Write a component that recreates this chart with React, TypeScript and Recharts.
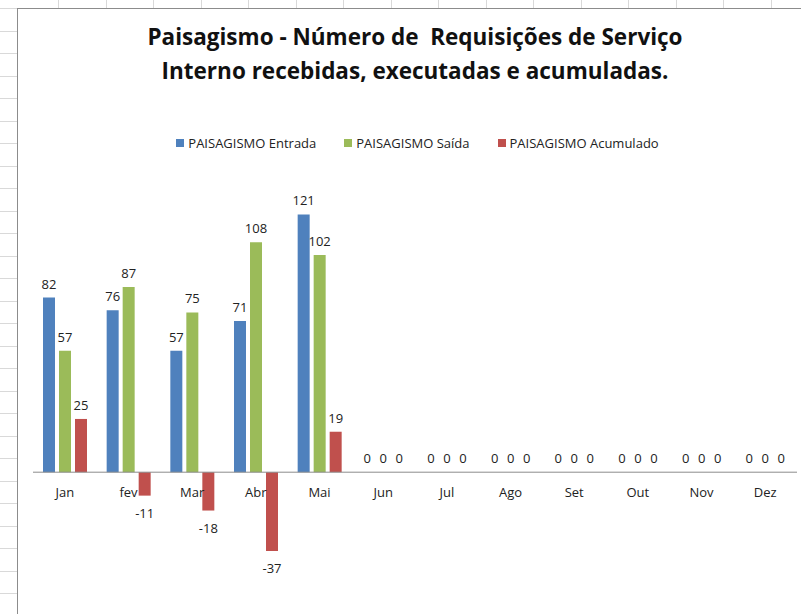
import { ComposedChart, Bar, Line, XAxis, YAxis, ReferenceLine, LabelList } from 'recharts'

const meses = ['Jan', 'fev', 'Mar', 'Abr', 'Mai', 'Jun', 'Jul', 'Ago', 'Set', 'Out', 'Nov', 'Dez']
const entrada = [82, 76, 57, 71, 121, 0, 0, 0, 0, 0, 0, 0]
const saida = [57, 87, 75, 108, 102, 0, 0, 0, 0, 0, 0, 0]
const acumulado = [25, -11, -18, -37, 19, 0, 0, 0, 0, 0, 0, 0]

const series = [
  { key: 'entrada', nome: 'PAISAGISMO Entrada', cor: '#4F81BD' },
  { key: 'saida', nome: 'PAISAGISMO Saída', cor: '#9BBB59' },
  { key: 'acumulado', nome: 'PAISAGISMO Acumulado', cor: '#C0504D' },
]

const dados = meses.map((mes, i) => ({
  mes,
  entrada: entrada[i],
  saida: saida[i],
  acumulado: acumulado[i],
}))

const FONTE = '"Open Sans", Lato, sans-serif'

// rotulo do valor: acima da barra se positivo, abaixo se negativo
const RotuloValor = (props: any) => {
  const { x, y, width, height, value } = props
  const cx = x + width / 2
  const topo = Math.min(y, y + height)
  const base = Math.max(y, y + height)
  const ty = value < 0 ? base + 22 : topo - 9
  return (
    <text x={cx} y={ty} textAnchor="middle" fontSize={13} fill="#222" fontFamily={FONTE}>
      {value}
    </text>
  )
}

// nomes dos meses logo abaixo da linha do zero
const RotuloMes = (props: any) => {
  const { x, y, value } = props
  return (
    <text x={x} y={y + 25} textAnchor="middle" fontSize={13} fill="#222" fontFamily={FONTE}>
      {value}
    </text>
  )
}

export default function App() {
  const linhasPlanilha = [...Array(27)].map((_, i) => i)
  const colunasPlanilha = [...Array(17)].map((_, i) => i)
  return (
    <div style={{ position: 'absolute', left: 0, top: 0, width: 801, height: 614, background: '#fff', overflow: 'hidden', fontFamily: FONTE }}>
      {/* grade da planilha ao fundo */}
      {linhasPlanilha.map(i => (
        <div key={'l' + i} style={{ position: 'absolute', left: 0, top: 8 + 22.5 * i, width: 17, height: 1, background: '#d9d9d9' }} />
      ))}
      {colunasPlanilha.map(i => (
        <div key={'c' + i} style={{ position: 'absolute', left: 58 + 47.5 * i, top: 0, width: 1, height: 8, background: '#d9d9d9' }} />
      ))}
      {/* moldura do grafico */}
      <div style={{ position: 'absolute', left: 17, top: 8, width: 790, height: 620, borderLeft: '1px solid #8c8c8c', borderTop: '1px solid #8c8c8c' }} />

      <div style={{ position: 'absolute', left: 65, width: 700, top: 20, textAlign: 'center', fontWeight: 700, fontSize: 22.5, lineHeight: '34px', color: '#111' }}>
        Paisagismo - Número de&nbsp; Requisições de Serviço
        <br />
        Interno recebidas, executadas e acumuladas.
      </div>

      <div style={{ position: 'absolute', left: 0, width: 835, top: 134, display: 'flex', justifyContent: 'center', gap: 28, fontSize: 13, color: '#222' }}>
        {series.map(s => (
          <div key={s.key} style={{ display: 'flex', alignItems: 'center', gap: 4 }}>
            <span style={{ width: 8, height: 8, background: s.cor, display: 'inline-block' }} />
            <span>{s.nome}</span>
          </div>
        ))}
      </div>

      <div style={{ position: 'absolute', left: 0, top: 0 }}>
        <ComposedChart
          width={801}
          height={614}
          data={dados}
          margin={{ top: 174, right: 4, bottom: 14, left: 33 }}
          barSize={12}
          barGap={4}
        >
          <XAxis dataKey="mes" hide />
          <YAxis hide domain={[-60, 140]} />
          <ReferenceLine y={0} stroke="#8c8c8c" strokeWidth={1} />
          {series.map(s => (
            <Bar key={s.key} dataKey={s.key} fill={s.cor} minPointSize={0.01} isAnimationActive={false}>
              <LabelList dataKey={s.key} content={RotuloValor} />
            </Bar>
          ))}
          <Line dataKey={() => 0} stroke="none" dot={false} activeDot={false} isAnimationActive={false} legendType="none">
            <LabelList dataKey="mes" content={RotuloMes} />
          </Line>
        </ComposedChart>
      </div>
    </div>
  )
}
